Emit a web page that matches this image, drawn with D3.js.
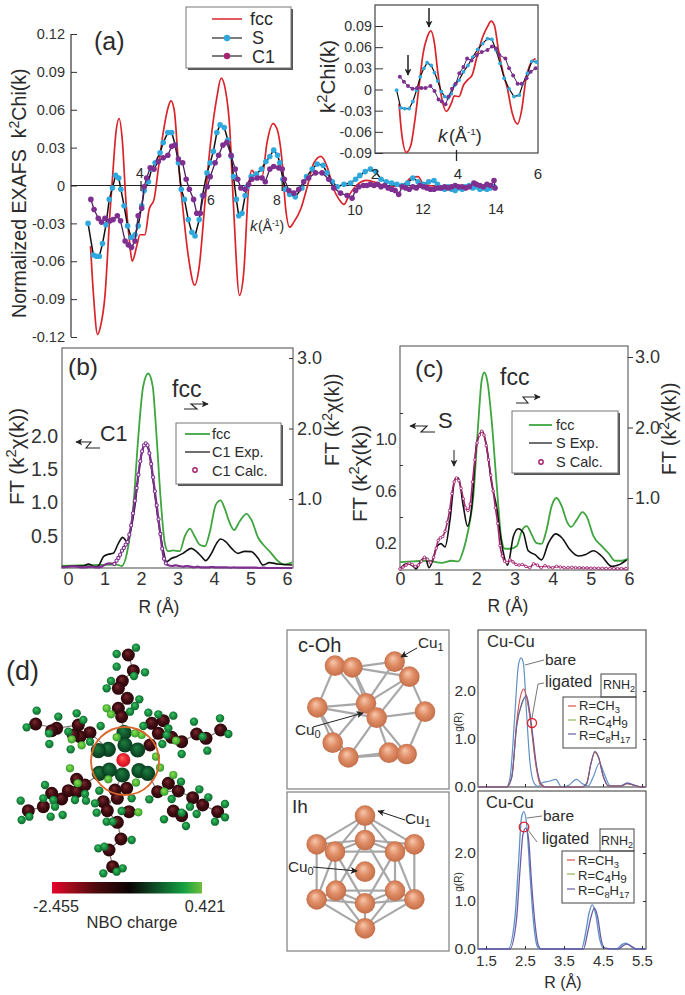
<!DOCTYPE html>
<html><head><meta charset="utf-8">
<style>html,body{margin:0;padding:0;background:#fff}svg{display:block}text{font-family:"Liberation Sans",Arial,sans-serif;fill:#2b2b2b}</style>
<script src="https://cdn.jsdelivr.net/npm/d3@7"></script></head><body><svg id="c" width="685" height="995"></svg>
<script>
// ---------- panel (a) main, [k, k2chi]
const aFcc=[[2.57,-.048],[2.65,-.085],[2.77,-.118],[2.85,-.112],[2.98,-.087],[3.12,-.022],[3.21,.013],[3.29,.042],[3.38,.053],[3.47,.036],[3.57,-.011],[3.67,-.043],[3.75,-.06],[3.88,-.048],[3.97,-.039],[4.11,-.039],[4.23,-.019],[4.37,-.011],[4.49,.013],[4.63,.042],[4.78,.063],[4.85,.067],[4.94,.06],[5.06,.018],[5.2,-.022],[5.34,-.056],[5.52,-.079],[5.65,-.064],[5.82,-.011],[5.96,.031],[6.15,.07],[6.27,.085],[6.39,.076],[6.51,.047],[6.62,-.016],[6.79,-.087],[6.91,-.069],[7.05,-.001],[7.14,.012],[7.29,.007],[7.43,.007],[7.57,.034],[7.74,.049],[7.85,.045],[8,.018],[8.09,-.016],[8.21,-.033],[8.33,-.029],[8.52,-.019],[8.71,-.001],[8.9,.018],[9.1,.023],[9.27,.015],[9.46,-.003],[9.61,-.011],[9.75,-.015],[9.89,-.008],[10.1,0],[10.4,.004],[10.7,.002],[11,-.001],[11.4,0],[11.65,.006],[11.85,.007],[12,.001],[12.5,-.001],[13,-.002],[13.5,0],[14,-.001]];
const aS=[[2.5,-.03],[2.65,-.055],[2.74,-.056],[2.82,-.056],[2.91,-.046],[3.01,-.031],[3.1,-.011],[3.19,-.002],[3.28,.008],[3.37,.006],[3.43,-.003],[3.52,-.016],[3.62,-.032],[3.72,-.041],[3.83,-.039],[3.92,-.032],[4.02,-.016],[4.09,-.004],[4.21,.003],[4.3,.013],[4.4,.018],[4.54,.026],[4.63,.034],[4.76,.042],[4.87,.042],[4.97,.032],[5.06,.018],[5.14,-.003],[5.23,-.011],[5.34,-.027],[5.44,-.037],[5.53,-.04],[5.65,-.027],[5.74,-.008],[5.87,.01],[5.96,.018],[6.05,.027],[6.15,.042],[6.24,.048],[6.36,.046],[6.46,.036],[6.56,.023],[6.62,.007],[6.7,-.011],[6.77,-.024],[6.86,-.022],[6.95,-.008],[7,-.001],[7.12,.007],[7.27,.009],[7.41,.013],[7.54,.019],[7.65,.023],[7.76,.028],[7.87,.024],[7.93,.018],[8.02,.005],[8.09,-.003],[8.21,-.007],[8.37,-.009],[8.56,-.002],[8.69,.007],[8.85,.013],[8.99,.017],[9.16,.016],[9.27,.01],[9.42,.003],[9.56,-.001],[9.75,.001],[9.94,.002],[10.08,.005],[10.2,.008],[10.35,.011],[10.5,.013],[10.65,.011],[10.8,.005],[10.95,.003],[11.1,.002],[11.25,.001],[11.4,0],[11.55,.002],[11.7,.006],[11.85,.003],[12,.001],[12.15,.003],[12.3,.004],[12.4,.001],[12.5,-.002],[12.6,-.003],[12.7,-.001],[12.8,-.003],[12.9,-.004],[13,-.002],[13.1,-.003],[13.2,-.001],[13.3,0],[13.4,-.002],[13.5,-.001],[13.6,-.003],[13.7,-.002],[13.8,-.003],[13.9,-.002],[14,-.001]];
const aC1=[[2.58,-.011],[2.67,-.019],[2.79,-.026],[2.88,-.029],[2.98,-.026],[3.12,-.028],[3.21,-.027],[3.33,-.024],[3.42,-.028],[3.55,-.044],[3.64,-.047],[3.73,-.049],[3.83,-.044],[3.92,-.024],[4.02,-.018],[4.09,-.001],[4.16,.006],[4.26,.014],[4.37,.013],[4.49,.019],[4.63,.022],[4.76,.024],[4.87,.031],[4.97,.032],[5.06,.021],[5.18,.018],[5.28,.005],[5.37,-.003],[5.49,-.011],[5.58,-.022],[5.68,-.022],[5.77,-.008],[5.88,-.001],[5.96,.007],[6.1,.018],[6.2,.024],[6.32,.032],[6.43,.034],[6.55,.024],[6.67,.013],[6.74,.005],[6.83,-.002],[6.95,-.003],[7.05,.001],[7.14,.005],[7.29,.006],[7.43,.006],[7.52,.003],[7.65,.013],[7.76,.015],[7.9,.014],[8,.013],[8.06,.005],[8.19,-.004],[8.33,-.006],[8.47,-.003],[8.61,.003],[8.75,.006],[8.94,.01],[9.13,.01],[9.32,.005],[9.46,-.002],[9.65,-.006],[9.84,-.008],[9.98,-.01],[10.08,-.004],[10.17,-.001],[10.3,0],[10.4,0],[10.5,.001],[10.6,0],[10.7,.001],[10.8,-.001],[10.9,0],[11,-.002],[11.1,-.003],[11.2,-.004],[11.3,-.007],[11.4,-.001],[11.5,-.002],[11.6,-.003],[11.7,-.001],[11.8,-.002],[11.9,0],[12,-.001],[12.1,-.002],[12.2,-.003],[12.3,-.003],[12.4,-.002],[12.5,-.002],[12.6,-.001],[12.7,-.002],[12.8,-.001],[12.9,0],[13,-.001],[13.1,-.001],[13.2,-.002],[13.3,-.001],[13.43,.002],[13.5,.001],[13.6,0],[13.7,-.001],[13.8,.001],[13.9,0],[14,.004],[14.03,-.002]];
// ---------- panel (a) inset
const iFcc=[[2.59,-.02],[2.65,-.06],[2.77,-.089],[2.88,-.079],[2.98,-.043],[3.07,-.001],[3.18,.051],[3.28,.074],[3.37,.083],[3.46,.065],[3.54,.025],[3.63,-.01],[3.75,-.031],[3.87,-.02],[3.95,-.009],[4.06,-.01],[4.17,.006],[4.28,.014],[4.38,.02],[4.5,.046],[4.64,.074],[4.76,.089],[4.85,.097],[4.93,.091],[5.03,.056],[5.13,.027],[5.25,.001],[5.37,-.034],[5.5,-.049],[5.6,-.029],[5.7,.013],[5.82,.037],[5.94,.044]];
const iS=[[2.53,-.001],[2.63,-.026],[2.73,-.027],[2.84,-.027],[2.93,-.017],[3.02,-.001],[3.11,.018],[3.2,.03],[3.28,.038],[3.38,.034],[3.46,.024],[3.54,.012],[3.63,-.003],[3.71,-.01],[3.79,-.012],[3.87,-.006],[3.95,.006],[4.06,.013],[4.17,.025],[4.28,.034],[4.4,.046],[4.52,.057],[4.64,.065],[4.76,.072],[4.87,.071],[4.97,.056],[5.07,.037],[5.17,.016],[5.29,.001],[5.41,-.01],[5.54,-.008],[5.63,.008],[5.74,.023],[5.85,.04],[5.96,.039]];
const iC1=[[2.61,.018],[2.71,.011],[2.81,.005],[2.92,.001],[3.03,.002],[3.14,.002],[3.24,.002],[3.36,.005],[3.46,-.002],[3.56,-.014],[3.64,-.017],[3.73,-.021],[3.81,-.01],[3.89,.001],[3.98,.008],[4.07,.023],[4.17,.032],[4.26,.044],[4.37,.041],[4.5,.049],[4.62,.053],[4.76,.056],[4.87,.061],[4.97,.058],[5.05,.049],[5.2,.044],[5.29,.03],[5.39,.02],[5.5,.008],[5.6,.008],[5.72,.016],[5.82,.025],[5.94,.03]];
const aYTicks=[-.12,-.09,-.06,-.03,0,.03,.06,.09,.12];
const iYTicks=[-.09,-.06,-.03,0,.03,.06,.09];
// ---------- panel (b)
const bFcc=[[-.17,.05],[1.33,.07],[1.47,.05],[1.65,.33],[1.79,.9],[1.92,1.84],[2.06,2.6],[2.2,2.78],[2.32,2.6],[2.42,1.94],[2.54,.99],[2.65,.38],[2.74,.26],[2.88,.27],[3.06,.26],[3.2,.47],[3.34,.58],[3.45,.49],[3.61,.35],[3.75,.33],[3.88,.52],[4.05,.92],[4.18,.98],[4.29,.87],[4.43,.66],[4.55,.56],[4.7,.68],[4.89,.79],[5.02,.71],[5.21,.45],[5.39,.33],[5.57,.23],[5.75,.12],[5.93,.07],[6.14,.1]];
const bExp=[[-.17,.04],[.15,.05],[.42,.05],[.56,.08],[.74,.04],[.83,.05],[.97,.19],[1.1,.225],[1.24,.24],[1.38,.39],[1.5,.48],[1.62,.415],[1.71,.565],[1.83,.94],[1.97,1.59],[2.11,1.865],[2.2,1.815],[2.33,1.34],[2.47,.74],[2.61,.29],[2.7,.115],[2.84,.165],[2.97,.19],[3.15,.24],[3.38,.315],[3.52,.265],[3.66,.19],[3.77,.13],[3.93,.24],[4.07,.39],[4.18,.455],[4.32,.415],[4.48,.315],[4.66,.24],[4.84,.27],[5.02,.265],[5.21,.165],[5.34,.065],[5.52,.1],[5.75,.08],[6.14,.065]];
const bCalc=[[-.17,.03],[-.05,.035],[.05,.04],[.15,.045],[.25,.04],[.35,.03],[.45,.03],[.55,.035],[.65,.04],[.75,.03],[.85,.03],[.95,.05],[1.05,.08],[1.12,.09],[1.2,.085],[1.27,.08],[1.33,.13],[1.38,.17],[1.43,.22],[1.48,.28],[1.53,.32],[1.58,.37],[1.63,.41],[1.68,.52],[1.73,.66],[1.78,.84],[1.83,1.03],[1.88,1.22],[1.93,1.42],[1.98,1.62],[2.03,1.77],[2.08,1.86],[2.13,1.89],[2.18,1.86],[2.23,1.74],[2.28,1.58],[2.33,1.38],[2.38,1.17],[2.43,.96],[2.48,.75],[2.53,.53],[2.58,.31],[2.63,.16],[2.68,.09],[2.75,.06],[2.85,.05],[2.95,.06],[3.05,.05],[3.15,.04],[3.25,.05],[3.35,.04],[3.45,.03],[3.55,.04],[3.65,.03],[3.75,.03],[3.85,.03],[3.95,.035],[4.05,.03],[4.15,.03],[4.25,.03],[4.35,.03],[4.45,.025],[4.55,.03],[4.65,.025],[4.75,.025],[4.85,.025],[4.95,.025],[5.05,.025],[5.15,.025],[5.25,.02],[5.35,.025],[5.45,.02],[5.55,.02],[5.65,.02],[5.75,.02],[5.85,.02],[5.95,.02],[6.05,.02],[6.14,.02]];
const bXTicks=[0,1,2,3,4,5,6], bLeftTicks=[.5,1,1.5,2], bRightTicks=[1,2,3];
// ---------- panel (c)
const cFcc=[[0,.09],[.31,.1],[.74,.11],[1.09,.08],[1.35,.11],[1.53,.1],[1.66,.26],[1.79,.55],[1.92,1.02],[2.05,2.06],[2.14,2.67],[2.21,2.78],[2.3,2.62],[2.4,2.11],[2.53,1.21],[2.66,.41],[2.75,.28],[2.88,.28],[3.06,.32],[3.19,.53],[3.32,.6],[3.45,.48],[3.58,.36],[3.71,.35],[3.84,.55],[3.97,.88],[4.1,1],[4.24,.88],[4.37,.67],[4.48,.59],[4.63,.69],[4.78,.8],[4.89,.74],[5.07,.46],[5.28,.32],[5.46,.22],[5.63,.11],[5.81,.11],[5.98,.14]];
const cExp=[[0,0],[.17,.04],[.35,.02],[.42,0],[.52,.05],[.66,.09],[.76,.01],[.85,.06],[.96,.17],[1.07,.195],[1.18,.17],[1.31,.38],[1.44,.69],[1.53,.7],[1.66,.48],[1.77,.33],[1.88,.48],[2.01,.97],[2.16,1.06],[2.27,.94],[2.4,.66],[2.53,.48],[2.66,.2],[2.82,.03],[2.97,.25],[3.1,.31],[3.23,.28],[3.36,.14],[3.54,.11],[3.71,.07],[3.89,.2],[4.08,.27],[4.24,.24],[4.45,.15],[4.67,.1],[4.85,.11],[5.07,.14],[5.28,.1],[5.55,.02],[5.72,.03],[5.94,.07]];
const cCalc=[[0,0],[.08,.015],[.16,.03],[.24,.045],[.32,.035],[.4,.02],[.48,.03],[.56,.06],[.64,.09],[.72,.075],[.8,.05],[.88,.09],[.95,.16],[1,.22],[1.06,.24],[1.12,.25],[1.18,.29],[1.24,.36],[1.3,.45],[1.36,.58],[1.42,.67],[1.48,.7],[1.54,.68],[1.6,.62],[1.66,.54],[1.72,.47],[1.78,.45],[1.84,.5],[1.9,.67],[1.96,.84],[2.02,.97],[2.08,1.03],[2.14,1.06],[2.2,1.03],[2.26,.95],[2.32,.84],[2.38,.72],[2.44,.6],[2.5,.47],[2.56,.35],[2.62,.18],[2.68,.1],[2.74,.06],[2.8,.05],[2.88,.07],[2.96,.055],[3.04,.035],[3.12,.03],[3.2,.035],[3.3,.02],[3.4,.01],[3.5,.04],[3.6,.03],[3.7,.01],[3.8,.025],[3.9,.015],[4,.01],[4.1,.02],[4.2,.015],[4.3,.01],[4.4,.01],[4.5,.012],[4.6,.01],[4.7,.01],[4.8,.008],[4.9,.008],[5,.006],[5.1,.006],[5.2,.005],[5.3,.005],[5.4,.004],[5.5,.004],[5.6,.003],[5.7,.003],[5.8,.003],[5.92,.003]];
const cXTicks=[0,1,2,3,4,5,6], cLeftTicks=[.2,.6,1], cLeftMinor=[.4,.8,1.2], cRightTicks=[1,2,3];
// ---------- g(R) panels
const g1Bare=[[1.3,0],[2.03,0],[2.12,.21],[2.23,1.39],[2.33,2.53],[2.4,2.69],[2.46,2.57],[2.54,1.53],[2.63,.49],[2.74,.07],[2.84,.01],[2.94,.09],[3.14,.125],[3.29,.16],[3.44,0],[3.61,.03],[3.82,.16],[3.97,.07],[4.12,.02],[4.25,.21],[4.41,.5],[4.53,.28],[4.68,.03],[4.94,.02],[5.11,.08],[5.28,.05],[5.45,0],[5.6,0]];
const g1Ch3=[[1.3,0],[2.03,0],[2.16,.21],[2.29,1.39],[2.4,1.94],[2.47,2.04],[2.56,1.81],[2.65,1.32],[2.76,.56],[2.88,.07],[3.01,0],[3.95,0],[4.08,.07],[4.19,.49],[4.29,.73],[4.38,.63],[4.51,.21],[4.64,.02],[4.98,.02],[5.11,.07],[5.32,.03],[5.49,0],[5.6,0]];
const g1C4=[[1.3,0],[2.03,0],[2.16,.2],[2.29,1.28],[2.42,1.72],[2.52,1.88],[2.6,1.6],[2.68,1.12],[2.78,.48],[2.9,.07],[3.03,0],[3.95,0],[4.08,.07],[4.19,.48],[4.29,.72],[4.38,.62],[4.51,.21],[4.64,.02],[4.98,.02],[5.11,.07],[5.32,.03],[5.49,0],[5.6,0]];
const g1C8=[[1.3,0],[2.03,0],[2.16,.2],[2.29,1.3],[2.42,1.75],[2.54,1.9],[2.62,1.58],[2.7,1.08],[2.8,.42],[2.92,.06],[3.05,0],[3.95,0],[4.08,.07],[4.19,.48],[4.29,.74],[4.38,.64],[4.51,.22],[4.64,.02],[4.98,.02],[5.11,.08],[5.32,.03],[5.49,0],[5.6,0]];
const g2Bare=[[1.3,0],[2.07,0],[2.24,.64],[2.33,1.73],[2.41,2.73],[2.47,2.86],[2.54,2.62],[2.63,1.53],[2.71,.64],[2.8,.09],[2.88,0],[3.95,0],[4.06,.36],[4.14,.74],[4.23,.92],[4.31,.74],[4.42,.19],[4.51,.02],[4.85,0],[4.98,.09],[5.08,.12],[5.19,.075],[5.32,0],[5.6,0]];
const g2Lig=[[1.3,0],[2.11,0],[2.28,.6],[2.37,1.62],[2.45,2.4],[2.52,2.52],[2.59,2.3],[2.67,1.36],[2.75,.58],[2.84,.08],[2.92,0],[4,0],[4.1,.32],[4.19,.66],[4.28,.85],[4.36,.68],[4.46,.17],[4.55,.02],[4.89,0],[5.02,.07],[5.11,.1],[5.22,.06],[5.35,0],[5.6,0]];
const gXTicks=[1.5,2.5,3.5,4.5,5.5], gYTicks=[0,1,2];
// ---------- molecule (d): atom sites
const dAtomD=[[385,105],[400,152],[367,183],[355,205],[382,235],[355,265],[365,290],[455,310],[490,302],[475,340],[515,352],[545,365],[590,342],[618,355],[662,330],[107,312],[170,325],[155,332],[235,315],[270,338],[240,350],[220,345],[85,572],[130,560],[155,520],[185,537],[205,512],[230,478],[230,515],[255,495],[345,510],[380,505],[310,545],[352,535],[322,572],[387,575],[352,607],[363,657],[327,690],[338,740],[473,515],[505,490],[535,513],[578,533],[608,555],[520,573],[545,587],[653,575],[450,375]];
const dAtomG=[[350,102],[408,83],[350,140],[435,157],[333,183],[320,205],[402,168],[418,238],[405,258],[390,275],[445,278],[475,283],[520,287],[582,305],[660,295],[685,342],[622,392],[545,402],[608,350],[505,325],[500,345],[487,372],[430,318],[110,272],[175,290],[230,280],[80,322],[147,340],[148,372],[205,335],[250,300],[302,318],[212,388],[270,365],[62,542],[65,600],[88,590],[135,495],[130,535],[160,540],[165,560],[152,590],[188,585],[225,540],[255,522],[258,542],[298,512],[395,535],[285,550],[290,578],[320,605],[338,605],[365,573],[395,660],[295,685],[313,680],[310,760],[368,745],[350,755],[448,538],[543,485],[515,537],[570,560],[598,508],[625,532],[590,582],[675,552],[675,592],[645,605],[558,618],[492,598],[545,578]];
const dAtomL=[[320,265],[333,283],[425,345],[528,362],[245,376],[215,358],[210,445],[233,490],[325,478],[408,488],[415,577],[493,515],[520,465],[350,352],[405,340],[468,410],[480,443]];
const dAtomK=[[372,338],[375,375],[325,388],[295,392],[413,390],[298,460],[328,450],[367,465],[417,452],[443,460]];
const dAtomR=[[370,420]];
const dChains=[[[385,105],[400,152],[367,183],[355,205],[382,235],[355,265],[365,290],[372,338]],[[662,330],[618,355],[590,342],[545,365],[515,352],[475,340],[450,375]],[[107,312],[170,325],[235,315],[270,338],[325,388]],[[85,572],[130,560],[185,537],[230,515],[255,495],[298,460]],[[338,740],[327,690],[363,657],[352,607],[322,572],[345,510],[367,465]],[[653,575],[608,555],[578,533],[535,513],[473,515],[443,460]]];
const dLegendValues=[-2.455,0.421];
// ---------- clusters
const cOhAtoms=[[165,137],[217,142],[344,125],[388,170],[112,262],[258,250],[158,368],[327,398],[435,275],[205,412],[380,402],[290,293]];
const cOhBonds=[[0,1],[1,2],[2,3],[1,3],[0,4],[0,5],[1,5],[1,11],[2,5],[3,11],[3,8],[4,5],[4,11],[4,6],[4,9],[5,6],[5,11],[11,8],[11,9],[11,10],[11,7],[8,10],[6,9],[9,7],[9,10],[7,10],[3,5]];
const ihAtoms=[[255,587],[255,660],[168,812],[345,812],[110,673],[403,673],[165,695],[345,695],[255,755],[110,838],[403,838],[255,850],[255,925]];
const ihBonds=[[0,4],[0,1],[0,6],[0,7],[0,5],[4,6],[4,1],[1,6],[1,7],[1,5],[6,7],[7,5],[4,9],[5,10],[6,9],[6,11],[7,10],[7,11],[9,2],[9,11],[9,12],[2,11],[2,3],[3,10],[3,11],[10,11],[10,12],[11,12],[2,12],[3,12],[1,2],[1,3],[6,2],[7,3]];

// ---------- helpers
const svg=d3.select("#c");
const defs=svg.append("defs");
const RED="#d9242b",CYAN="#2fa9dd",PURP="#7f2f8f",MAG="#a3246f",GRN="#3fa53f";
function arrowDef(id,col){defs.append("marker").attr("id",id).attr("viewBox","0 0 10 10").attr("refX",9).attr("refY",5).attr("markerWidth",7).attr("markerHeight",7).attr("markerUnits","userSpaceOnUse").attr("orient","auto").append("path").attr("d","M0,0L10,5L0,10L2.5,5Z").attr("fill",col);}
arrowDef("ar","#222");
function grad(id,inner,mid,outer){const g=defs.append("radialGradient").attr("id",id).attr("cx","50%").attr("cy","50%").attr("r","55%").attr("fx","40%").attr("fy","32%");
 g.append("stop").attr("offset","0%").attr("stop-color",inner);g.append("stop").attr("offset","50%").attr("stop-color",mid);g.append("stop").attr("offset","100%").attr("stop-color",outer);}
grad("gD","#7d2a2e","#420d13","#230507");grad("gG","#3ec463","#1b9444","#0d5f2a");grad("gL","#92dc55","#5cc43c","#2f8f2c");grad("gK","#1f7f42","#115a2e","#08331b");grad("gR","#ff6a6a","#f0252f","#c2101f");grad("gC","#f7c9ae","#e08d66","#bf6a45");
function txt(x,y,s,size,opt={}){const t=svg.append("text").attr("x",x).attr("y",y).attr("font-size",size).attr("text-anchor",opt.anchor||"start");
 if(opt.rot!=null)t.attr("transform",`rotate(${opt.rot} ${x} ${y})`);
 if(opt.italic)t.attr("font-style","italic");if(opt.fill)t.style("fill",opt.fill);if(opt.ls)t.attr("letter-spacing",opt.ls);
 let pend=0;
 s.forEach(p=>{if(typeof p==="string"){t.append("tspan").attr("dy",pend).text(p);pend=0;}else{const sh=p[1]==="sup"?-size*.38:size*.22;t.append("tspan").attr("dy",pend+sh).attr("font-size",size*(p[2]||.72)).text(p[0]);pend=-sh;}});return t;}
function seg(pts,col="#222",w=1,arrow=false){const p=svg.append("path").attr("d",d3.line()(pts)).attr("fill","none").attr("stroke",col).attr("stroke-width",w);if(arrow)p.attr("marker-end","url(#ar)");return p;}
function box(x0,y0,x1,y1,col="#666",w=1.2,shadow=false){if(shadow)svg.append("rect").attr("x",x0+2).attr("y",y0+2).attr("width",x1-x0).attr("height",y1-y0).attr("fill","#555");
 svg.append("rect").attr("x",x0).attr("y",y0).attr("width",x1-x0).attr("height",y1-y0).attr("fill",shadow?"#fff":"none").attr("stroke",col).attr("stroke-width",w);}
function curve(data,x,y,col,w,cv=d3.curveMonotoneX){svg.append("path").attr("d",d3.line().x(d=>x(d[0])).y(d=>y(d[1])).curve(cv)(data)).attr("fill","none").attr("stroke",col).attr("stroke-width",w).attr("stroke-linejoin","round");}
function dots(data,x,y,col,r){svg.append("g").selectAll("circle").data(data).join("circle").attr("cx",d=>x(d[0])).attr("cy",d=>y(d[1])).attr("r",r).attr("fill",col);}
function rings(data,x,y,col,r,w){svg.append("g").selectAll("circle").data(data).join("circle").attr("cx",d=>x(d[0])).attr("cy",d=>y(d[1])).attr("r",r).attr("fill","#fff").attr("stroke",col).attr("stroke-width",w);}
function axis(gen,tx,ty,size,col="#333",tickCol="#333",ls=null){const g=svg.append("g").attr("transform",`translate(${tx},${ty})`).call(gen);g.select(".domain").remove();g.selectAll("line").attr("stroke",tickCol);g.selectAll("text").filter(function(){return !this.textContent;}).remove();g.selectAll("text").attr("font-size",size).style("fill",col);if(ls)g.selectAll("text").attr("letter-spacing",ls);g.attr("font-family",null).attr("font-size",null);return g;}
const fmtA=d=>d===0?"0":d3.format(".2f")(d).replace("\u2212","-");

// ---------- (a) main
const ax=d3.scaleLinear().domain([4,14]).range([141,494]);
const ay=d3.scaleLinear().domain([-.12,.12]).range([337,34]);
seg([[71,34],[71,337]],"#333",1.2);
axis(d3.axisLeft(ay).tickValues(aYTicks).tickSize(-6).tickPadding(6).tickFormat(fmtA),71,0,14.5);
seg([[71,ay(0)],[494,ay(0)]],"#222",1.2);
curve(aFcc,ax,ay,RED,1.7);
curve(aS,ax,ay,"#111",1.5,d3.curveLinear);
dots(aS,ax,ay,CYAN,2.8);
curve(aC1,ax,ay,"#4b1f5e",1.3,d3.curveLinear);
dots(aC1,ax,ay,PURP,2.8);
seg([[ax(4),181],[ax(4),191]],"#222",1.2);
seg([[ax(8),181],[ax(8),191]],"#222",1.2);
txt(140,178,["4"],14,{anchor:"middle"});txt(211,205,["6"],14,{anchor:"middle"});txt(277,205,["8"],14,{anchor:"middle"});
txt(355,215,["10"],14,{anchor:"middle"});txt(423,214,["12"],14,{anchor:"middle"});txt(496,214,["14"],14,{anchor:"middle"});
txt(375,179,["2"],15,{anchor:"middle"});txt(458,179,["4"],15,{anchor:"middle"});txt(538,179,["6"],15,{anchor:"middle"});
txt(250,231,["k"],15,{italic:true});txt(258,231,["(Å",["-1","sup",.6],")"],14);
txt(26,318,["Normalized EXAFS\u00a0\u00a0k",["2","sup"],"Chi(k)"],19.6,{rot:-90});
txt(94,50,["(a)"],25);
// legend a
box(186,7,291,68,"#777",1,true);
seg([[212,19],[242,19]],RED,1.5);seg([[212,38],[242,38]],"#444",1.4);seg([[212,56],[242,56]],"#444",1.4);
dots([[227,38]],d=>d,d=>d,CYAN,3.2);dots([[227,56]],d=>d,d=>d,MAG,3.2);
txt(250,25,["fcc"],18);txt(252,44,["S"],18);txt(252,63,["C1"],18);
// ---------- (a) inset
const ix=d3.scaleLinear().domain([2,6]).range([375,538]);
const iy=d3.scaleLinear().domain([-.09,.09]).range([153,26]);
box(375,5,538,153,"#444",1.2);
axis(d3.axisLeft(iy).tickValues(iYTicks).tickSize(-8).tickPadding(3).tickFormat(fmtA),375,0,14.3);
curve(iFcc,ix,iy,RED,1.7);
curve(iS,ix,iy,"#111",1.2,d3.curveLinear);
dots(iS,ix,iy,CYAN,1.9);
curve(iC1,ix,iy,"#4b1f5e",1,d3.curveLinear);
dots(iC1,ix,iy,PURP,2);
seg([[ix(4),150],[ix(4),161]],"#222",1.3);
seg([[429,8],[429,27]],"#222",1.5,true);seg([[408,55],[408,75]],"#222",1.5,true);
txt(438,142,["k"],19,{italic:true});txt(449,142,["(Å",["-1","sup",.55],")"],18);
txt(335,113,["k",["2","sup"],"Chi(k)"],20.5,{rot:-90});

// ---------- (b)
const bx=d3.scaleLinear().domain([0,6]).range([68,287]);
const bL=d3.scaleLinear().domain([.5,2]).range([536,436]);
const bR=d3.scaleLinear().domain([1,3]).range([499,358]);
box(62,348,293,568,"#666",1.2);
curve(bFcc,bx,bR,GRN,1.8);
curve(bExp,bx,bL,"#111",1.6);
curve(bCalc,bx,bL,PURP,2.2);
rings(bCalc.filter(d=>d[0]>1.2&&d[0]<2.7),bx,bL,PURP,1.6,1.1);
axis(d3.axisBottom(bx).tickValues(bXTicks).tickSize(0).tickPadding(0).tickFormat(d3.format("d")),0,572,18);
axis(d3.axisLeft(bL).tickValues(bLeftTicks).tickSize(0).tickPadding(4).tickFormat(d3.format(".1f")),62,0,19.5);
axis(d3.axisLeft(bR).tickValues(bRightTicks).tickSize(4).tickPadding(0).tickFormat(""),293,0,16);
axis(d3.axisRight(bR).tickValues(bRightTicks).tickSize(0).tickPadding(4).tickFormat(d3.format(".1f")),293,0,18);
txt(68,375,["(b)"],24.5);txt(172,397,["fcc"],23);txt(100,441,["C1"],21.5);
seg([[184,409],[197,409],[191,404],[208,404]],"#222",1.1,true);
seg([[100,448],[86,448],[91,442],[76,442]],"#222",1.1,true);
box(176,423,281,484,"#777",1,true);
seg([[185,434],[210,434]],GRN,1.8);seg([[185,452],[210,452]],"#333",1.4);
rings([[195,470]],d=>d,d=>d,MAG,2.2,1.4);
txt(212,439,["fcc"],14.5);txt(212,457,["C1 Exp."],14.5);txt(212,476,["C1 Calc."],14.5);
txt(159,613,["R (Å)"],17.5,{anchor:"middle"});
txt(24,505,["FT (k",["2","sup"],"χ(k))"],20.5,{rot:-90});
txt(339,466,["FT (k",["2","sup"],"χ(k))"],19.5,{rot:-90});

// ---------- (c)
const cx=d3.scaleLinear().domain([0,6]).range([400,629]);
const cL=d3.scaleLinear().domain([.2,1]).range([543,439]);
const cR=d3.scaleLinear().domain([1,3]).range([498,357]);
box(400,346,628,570,"#666",1.2);
curve(cFcc,cx,cR,GRN,1.8);
curve(cExp,cx,cL,"#111",1.6);
curve(cCalc,cx,cL,MAG,1.6);
rings(cCalc,cx,cL,MAG,1.3,.9);
axis(d3.axisBottom(cx).tickValues(cXTicks).tickSize(0).tickPadding(0).tickFormat(d3.format("d")),0,572,18);
axis(d3.axisLeft(cL).tickValues(cLeftTicks).tickSize(0).tickPadding(4).tickFormat(d3.format(".1f")),400,0,16.5,"#333","#333",-.8);
axis(d3.axisLeft(cL).tickValues(cLeftMinor).tickSize(-3).tickFormat(""),400,0,10);
axis(d3.axisRight(cR).tickValues(cRightTicks).tickSize(5).tickPadding(2).tickFormat(d3.format(".1f")),628,0,18);
txt(415,377,["(c)"],24.5);txt(500,385,["fcc"],23);txt(438,428,["S"],22);
seg([[516,403],[528,403],[523,397],[540,397]],"#222",1.1,true);
seg([[435,432],[421,432],[427,426],[410,426]],"#222",1.1,true);
seg([[454,450],[454,466]],"#222",1,true);
box(512,411,618,473,"#777",1,true);
seg([[529,425],[552,425]],GRN,1.8);seg([[529,443],[552,443]],"#333",1.4);
rings([[541,462]],d=>d,d=>d,MAG,2.2,1.4);
txt(556,430,["fcc"],14.5);txt(556,448,["S Exp."],14.5);txt(556,467,["S Calc."],14.5);
txt(508,612,["R (Å)"],17.5,{anchor:"middle"});
txt(367,522,["FT (k",["2","sup"],"χ(k))"],20.5,{rot:-90});
txt(676,475,["FT (k",["2","sup"],"χ(k))"],19.5,{rot:-90});

// ---------- (d)
const mx=d3.scaleLinear().domain([0,840]).range([0,280]);
const my=d3.scaleLinear().domain([0,990]).range([620,950]);
function atoms(list,gid,r){svg.append("g").selectAll("circle").data(list).join("circle").attr("cx",d=>mx(d[0])).attr("cy",d=>my(d[1])).attr("r",r).attr("fill",`url(#${gid})`);}
const chainLine=d3.line().x(d=>mx(d[0])).y(d=>my(d[1]));
svg.append("g").selectAll("path").data(dChains).join("path").attr("d",chainLine).attr("fill","none").attr("stroke","#8a7a7a").attr("stroke-width",1.2);
atoms(dAtomD,"gD",6.5);atoms(dAtomG,"gG",4.2);atoms(dAtomK,"gK",7.6);atoms(dAtomL,"gL",4.1);atoms(dAtomR,"gR",7);
svg.append("circle").attr("cx",mx(375)).attr("cy",my(423)).attr("r",34).attr("fill","none").attr("stroke","#d9662a").attr("stroke-width",1.8);
txt(6,680,["(d)"],27);
const barG=defs.append("linearGradient").attr("id","nbo");
[[0,"#e8002a"],[.12,"#a30c1c"],[.3,"#4a0a0d"],[.52,"#0a0404"],[.72,"#0f5a2c"],[.88,"#14a040"],[1,"#6fbe3d"]].forEach(s=>barG.append("stop").attr("offset",s[0]).attr("stop-color",s[1]));
const nboX=d3.scaleLinear().domain(dLegendValues).range([52,202]);
svg.append("rect").attr("x",nboX(dLegendValues[0])).attr("y",882).attr("width",nboX(dLegendValues[1])-nboX(dLegendValues[0])).attr("height",11.5).attr("fill","url(#nbo)");
txt(56,912,["-2.455"],16.2,{anchor:"middle"});txt(205,912,["0.421"],16.2,{anchor:"middle"});txt(132,928,["NBO charge"],16.5,{anchor:"middle"});

// ---------- clusters
const zx=d3.scaleLinear().domain([0,570]).range([280,470]);
const zy=d3.scaleLinear().domain([0,1020]).range([620,960]);
function cluster(a,b,r){svg.append("g").selectAll("line").data(b).join("line").attr("x1",d=>zx(a[d[0]][0])).attr("y1",d=>zy(a[d[0]][1])).attr("x2",d=>zx(a[d[1]][0])).attr("y2",d=>zy(a[d[1]][1])).attr("stroke","#a8a8a8").attr("stroke-width",2.2);
 svg.append("g").selectAll("circle").data(a).join("circle").attr("cx",d=>zx(d[0])).attr("cy",d=>zy(d[1])).attr("r",r).attr("fill","url(#gC)");}
box(287,630,449,789,"#888",1.3);box(287,792,449,951,"#888",1.3);
cluster(cOhAtoms,cOhBonds,10.3);cluster(ihAtoms,ihBonds,10.3);
txt(298,652,["c-Oh"],20);txt(292,813,["Ih"],19);
txt(418,648,["Cu",["1","sub"]],15.3);txt(295,735,["Cu",["0","sub"]],15.3);txt(405,824,["Cu",["1","sub"]],15.3);txt(288,872,["Cu",["0","sub"]],15.3);
seg([[417,648],[401,657]],"#222",1,true);seg([[313,727],[363,713]],"#222",1,true);seg([[405,820],[378,811]],"#222",1,true);seg([[313,867],[357,871]],"#222",1,true);

// ---------- g(R)
const gx=d3.scaleLinear().domain([1.5,5.5]).range([486,642]);
const gy1=d3.scaleLinear().domain([0,2]).range([787,691]);
const gy2=d3.scaleLinear().domain([0,2]).range([949,853]);
const gBlue="#5f90c8",gRed="#d8524a",gGrn="#8fb35a",gPur="#6a5ca5";
box(478,630,646,787,"#555",1.2);box(478,791,646,949,"#555",1.2);
curve(g1Bare,gx,gy1,gBlue,1.2);curve(g1C4,gx,gy1,gGrn,1.1);curve(g1Ch3,gx,gy1,gRed,1.1);curve(g1C8,gx,gy1,gPur,1.1);
curve(g2Bare,gx,gy2,gBlue,1.3);curve(g2Lig,gx,gy2,gPur,1.3);
[gy1,gy2].forEach((s,i)=>{const b=i?949:787;
 axis(d3.axisBottom(gx).tickValues(gXTicks).tickSize(-3).tickFormat(""),0,b,10);
 axis(d3.axisLeft(s).tickValues(gYTicks).tickSize(0).tickPadding(2).tickFormat(d3.format(".1f")),478,0,15.5);
 axis(d3.axisRight(s).tickValues(gYTicks.slice(1)).tickSize(-3).tickFormat(""),646,0,10);
 txt(462,i?882:722,["g(R)"],10,{rot:-90,anchor:"middle"});});
axis(d3.axisBottom(gx).tickValues(gXTicks).tickSize(0).tickPadding(6).tickFormat(d3.format(".1f")),0,949,15);
txt(563,988,["R (Å)"],16,{anchor:"middle"});
txt(487,647,["Cu-Cu"],16.5);txt(545,665,["bare"],15.5);txt(545,687,["ligated"],16);
seg([[525,665],[544,660]],"#777",1);seg([[532,718],[538,684],[544,683]],"#777",1);
svg.append("circle").attr("cx",532).attr("cy",723).attr("r",4.5).attr("fill","none").attr("stroke","#e01f2d").attr("stroke-width",1.3);
box(601,674,636,697,"#444",1);txt(603,689,["RNH",["2","sub"]],12.5);
box(563,697,636,748,"#444",1);
txt(579,710,["R=CH",["3","sub"]],13);txt(579,725,["R=C",["4","sub",.9],"H",["9","sub",.9]],13);txt(579,740,["R=C",["8","sub"],"H",["17","sub"]],13);
seg([[568,706],[576,706]],gRed,1.2);seg([[568,720],[576,720]],gGrn,1.2);seg([[568,734],[576,734]],gPur,1.2);
txt(486,808,["Cu-Cu"],16.5);txt(543,821,["bare"],15.5);txt(542,844,["ligated"],16);
seg([[527,818],[542,816]],"#777",1);seg([[528,830],[537,842]],"#777",1);
svg.append("circle").attr("cx",524).attr("cy",827).attr("r",4.8).attr("fill","none").attr("stroke","#e01f2d").attr("stroke-width",1.3);
box(600,829,634,851,"#444",1);txt(601,845,["RNH",["2","sub"]],12.5);
box(562,851,634,903,"#444",1);
txt(578,865,["R=CH",["3","sub"]],13);txt(578,880,["R=C",["4","sub",.9],"H",["9","sub",.9]],13);txt(578,895,["R=C",["8","sub"],"H",["17","sub"]],13);
seg([[567,860],[575,860]],gRed,1.2);seg([[567,874],[575,874]],gGrn,1.2);seg([[567,889],[575,889]],gPur,1.2);
</script></body></html>
